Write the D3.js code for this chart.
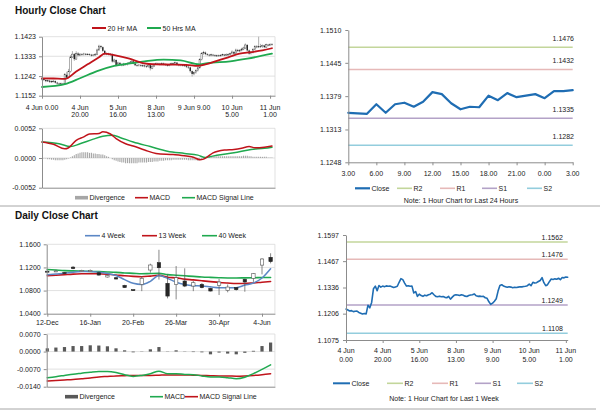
<!DOCTYPE html>
<html><head><meta charset="utf-8">
<script src="https://cdn.jsdelivr.net/npm/d3@7"></script>
<style>
body{margin:0;background:#fff}
svg text{font-family:"Liberation Sans",Arial,sans-serif}
</style></head><body>
<svg id="c" width="600" height="413"></svg>
<script>
// ---------------- DATA ----------------
// Hourly (4 Jun 0.00 -> 11 Jun ~2.00), one value per hour bar
const hourlyClose = [1.1229,1.1224,1.1219,1.1221,1.1216,1.1218,1.1219,1.1212,1.1208,1.1204,
1.1207,1.1205,1.1248,1.1235,1.1262,1.1330,1.1343,1.1320,1.1346,1.1338,
1.1343,1.1340,1.1344,1.1342,1.1343,1.1340,1.1336,1.1339,1.1342,1.1362,
1.1380,1.1375,1.1358,1.1343,1.1345,1.1342,1.1343,1.1309,1.1316,1.1292,
1.1303,1.1296,1.1292,1.1298,1.1295,1.1300,1.1303,1.1310,1.1300,1.1292,
1.1290,1.1293,1.1290,1.1291,1.1287,1.1285,1.1292,1.1278,1.1288,1.1297,
1.1300,1.1299,1.1296,1.1300,1.1297,1.1293,1.1291,1.1296,1.1299,1.1300,
1.1304,1.1295,1.1292,1.1293,1.1291,1.1292,1.1285,1.1282,1.1265,1.1252,
1.1258,1.1268,1.1280,1.1318,1.1346,1.1350,1.1343,1.1340,1.1337,1.1340,
1.1338,1.1335,1.1337,1.1336,1.1338,1.1340,1.1339,1.1341,1.1342,1.1345,
1.1353,1.1345,1.1362,1.1358,1.1360,1.1366,1.1371,1.1385,1.1360,1.1345,
1.1350,1.1365,1.1378,1.1376,1.1379,1.1377,1.1382,1.1375,1.1386,1.1384,
1.1388,1.1387];
const hourlyHigh = [1.1236,1.1233,1.1228,1.1226,1.1225,1.1222,1.1224,1.1222,1.1216,1.1212,
1.1212,1.1211,1.1256,1.1262,1.1275,1.1338,1.1357,1.1348,1.1356,1.1352,
1.1348,1.1347,1.1349,1.1348,1.1347,1.1346,1.1344,1.1343,1.1348,1.1368,
1.1386,1.1384,1.1378,1.1362,1.1350,1.1349,1.1348,1.1346,1.1322,1.1319,
1.1308,1.1306,1.1300,1.1303,1.1302,1.1305,1.1308,1.1315,1.1313,1.1304,
1.1297,1.1298,1.1297,1.1296,1.1295,1.1292,1.1297,1.1295,1.1292,1.1302,
1.1305,1.1304,1.1303,1.1305,1.1304,1.1300,1.1297,1.1300,1.1304,1.1305,
1.1309,1.1307,1.1299,1.1298,1.1297,1.1297,1.1295,1.1289,1.1285,1.1268,
1.1264,1.1273,1.1286,1.1324,1.1352,1.1358,1.1355,1.1347,1.1344,1.1345,
1.1344,1.1342,1.1341,1.1341,1.1343,1.1345,1.1344,1.1346,1.1347,1.1350,
1.1360,1.1357,1.1368,1.1367,1.1366,1.1372,1.1377,1.1392,1.1389,1.1364,
1.1356,1.1370,1.1384,1.1384,1.1423,1.1390,1.1387,1.1386,1.1391,1.1390,
1.1393,1.1393];
const hourlyLow = [1.1222,1.1219,1.1214,1.1215,1.1211,1.1212,1.1213,1.1208,1.1202,1.1199,
1.1200,1.1200,1.1203,1.1230,1.1232,1.1258,1.1325,1.1312,1.1318,1.1333,
1.1334,1.1335,1.1336,1.1337,1.1338,1.1336,1.1332,1.1333,1.1336,1.1340,
1.1358,1.1368,1.1352,1.1338,1.1338,1.1337,1.1336,1.1304,1.1303,1.1287,
1.1288,1.1291,1.1287,1.1288,1.1290,1.1291,1.1296,1.1299,1.1296,1.1288,
1.1285,1.1286,1.1285,1.1285,1.1282,1.1280,1.1281,1.1268,1.1274,1.1285,
1.1293,1.1294,1.1291,1.1292,1.1292,1.1289,1.1286,1.1287,1.1292,1.1294,
1.1296,1.1290,1.1287,1.1287,1.1286,1.1285,1.1279,1.1275,1.1258,1.1240,
1.1246,1.1253,1.1263,1.1276,1.1314,1.1340,1.1338,1.1335,1.1332,1.1333,
1.1333,1.1330,1.1331,1.1331,1.1332,1.1334,1.1334,1.1335,1.1337,1.1338,
1.1341,1.1340,1.1342,1.1352,1.1353,1.1356,1.1361,1.1367,1.1355,1.1340,
1.1341,1.1346,1.1361,1.1370,1.1371,1.1371,1.1372,1.1370,1.1372,1.1379,
1.1380,1.1382];
const ma20Idx = [0,6,12,18,24,30,33,38,46,53,60,68,76,82,86,92,98,104,110,116,121];
const ma20    = [1.1232,1.1231,1.1229,1.1263,1.1296,1.1329,1.1345,1.1338,1.1322,1.1302,1.1296,1.1295,1.1294,1.1289,1.1296,1.1312,1.1328,1.1345,1.1352,1.1360,1.1370];
const ma50Idx = [0,12,20,29,38,46,54,64,73,83,87,99,108,121];
const ma50    = [1.1192,1.1205,1.1232,1.1265,1.1289,1.1300,1.1310,1.1318,1.1314,1.1296,1.1302,1.1310,1.1322,1.1345];
const hMacdIdx = [0,6,12,14,18,22,25,30,32,36,39,44,48,54,60,69,76,80,83,85,87,90,96,101,105,109,112,117,121];
const hMacd    = [0.0028,0.0024,0.0016,0.0018,0.0031,0.0037,0.0042,0.0043,0.0046,0.0042,0.0034,0.0025,0.0021,0.0014,0.0008,0.0006,0.00035,0.0001,-0.0003,-0.0002,0.0002,0.0009,0.0014,0.0015,0.0017,0.0020,0.0018,0.0019,0.0021];
const hSigIdx = [0,9,15,20,27,32,37,41,48,57,66,75,82,86,92,101,110,117,121];
const hSig    = [0.0028,0.0025,0.0020,0.0025,0.0033,0.0038,0.0040,0.0036,0.0028,0.0020,0.0012,0.0008,0.0005,0.0001,0.0005,0.0009,0.0015,0.0017,0.0019];
const hDiv = [0,-0.0001,-0.0001,-0.0002,-0.0002,-0.0003,-0.0003,-0.0004,-0.0004,-0.0004,
-0.0004,-0.0004,-0.0003,-0.0002,-0.0001,0.0001,0.0003,0.0005,0.0007,0.0008,
0.0009,0.0010,0.0010,0.0010,0.0010,0.0009,0.0009,0.0008,0.0008,0.0007,
0.0007,0.0006,0.0006,0.0005,0.0003,0.0002,0.0000,-0.0002,-0.0004,-0.0005,
-0.0006,-0.0007,-0.0008,-0.0008,-0.0009,-0.0009,-0.0009,-0.0009,-0.0009,-0.0009,
-0.0009,-0.0008,-0.0008,-0.0008,-0.0008,-0.0008,-0.0007,-0.0007,-0.0007,-0.0006,
-0.0006,-0.0006,-0.0005,-0.0005,-0.0005,-0.0004,-0.0004,-0.0004,-0.0004,-0.0003,
-0.0003,-0.0003,-0.0003,-0.0003,-0.0003,-0.0003,-0.0003,-0.0004,-0.0004,-0.0004,
-0.0004,-0.0004,-0.0005,-0.0004,-0.0003,-0.0001,0.0001,0.0002,0.0003,0.0003,
0.0003,0.0003,0.0003,0.0003,0.0003,0.0003,0.0003,0.0003,0.0003,0.0003,
0.0003,0.0003,0.0003,0.0003,0.0003,0.0003,0.0004,0.0004,0.0004,0.0003,
0.0003,0.0002,0.0002,0.0002,0.0002,0.0002,0.0002,0.0002,0.0002,0.0001,
0.0001,0.0001];
const hourTicks = [0,20,40,60,80,100,120];
const hourLabelsA = [["4 Jun 0.00"],["4 Jun","20.00"],["5 Jun","16.00"],["8 Jun","13.00"],["9 Jun 9.00"],["10 Jun","5.00"],["11 Jun","1.00"]];
const hourLabelsW = [["4 Jun","0.00"],["4 Jun","20.00"],["5 Jun","16.00"],["8 Jun","13.00"],["9 Jun","9.00"],["10 Jun","5.00"],["11 Jun","1.00"]];
const priceTicksA = [1.1152,1.1242,1.1333,1.1423];
const macdTicksA = [-0.0052,0,0.0052];

// Last 24 hours
const close24 = [1.1346,1.1345,1.1344,1.1363,1.1346,1.1363,1.1366,1.1358,1.1368,1.1387,1.1383,1.1365,1.1353,1.1358,1.1357,1.1380,1.1371,1.1385,1.1377,1.1380,1.1383,1.1375,1.1389,1.1389,1.1391];
const ticks24 = [0,3,6,9,12,15,18,21,24];
const labels24 = ["3.00","6.00","9.00","12.00","15.00","18.00","21.00","0.00","3.00"];
const priceTicks24 = [1.1248,1.1313,1.1379,1.1445,1.1510];
const levelNames = ["R2","R1","S1","S2"];
const levels24 = [1.1476,1.1432,1.1335,1.1282];
const levelsWeek = [1.1562,1.1476,1.1249,1.1108];
const priceTicksW = [1.1075,1.1206,1.1336,1.1467,1.1597];

// Weekly candles (12-Dec .. 11-Jun)
const wOpen  = [1.1135,1.1132,1.1112,1.1205,1.1138,1.1140,1.1108,1.1034,1.1022,1.0890,1.0815,1.0907,1.1155,1.1282,1.0925,1.0907,1.0965,1.0878,1.0907,1.0838,1.0890,1.0803,1.0850,1.0994,1.1011,1.1240,1.1375];
const wClose = [1.1125,1.1140,1.1104,1.1180,1.1146,1.1148,1.1068,1.1063,1.1000,1.0852,1.0805,1.1011,1.1242,1.1195,1.0705,1.1022,1.0878,1.0936,1.0850,1.0792,1.0948,1.0861,1.0815,1.0948,1.1092,1.1346,1.1300];
const wHigh  = [1.1145,1.1160,1.1120,1.1225,1.1160,1.1165,1.1125,1.1075,1.1035,1.0900,1.0820,1.1050,1.1265,1.1505,1.1081,1.1224,1.1185,1.0965,1.0930,1.0850,1.1000,1.0905,1.0860,1.1005,1.1100,1.1360,1.1445];
const wLow   = [1.1118,1.1120,1.1095,1.1170,1.1130,1.1135,1.1060,1.1025,1.0990,1.0845,1.0795,1.0790,1.1110,1.0990,1.0665,1.0647,1.0860,1.0790,1.0840,1.0785,1.0723,1.0770,1.0800,1.0780,1.0950,1.1080,1.1270];
const ma4  = [1.1075,1.1088,1.1100,1.1118,1.1128,1.1130,1.1118,1.1095,1.1060,1.0990,1.0925,1.0905,1.0960,1.1060,1.1010,1.0945,1.0905,1.0885,1.0880,1.0865,1.0850,1.0848,1.0850,1.0895,1.0930,1.1018,1.1178];
const ma13 = [1.1055,1.1065,1.1075,1.1085,1.1090,1.1092,1.1090,1.1082,1.1070,1.1055,1.1045,1.1040,1.1050,1.1062,1.1030,1.1020,1.0998,1.0985,1.0970,1.0955,1.0940,1.0930,1.0922,1.0922,1.0932,1.0945,1.0957];
const ma40 = [1.1165,1.1155,1.1145,1.1140,1.1136,1.1132,1.1128,1.1122,1.1115,1.1105,1.1098,1.1090,1.1095,1.1098,1.1075,1.1065,1.1055,1.1045,1.1035,1.1028,1.1022,1.1018,1.1018,1.1020,1.1022,1.1025,1.1027];
const dDiv  = [0.0013,0.0016,0.0018,0.0022,0.0022,0.0025,0.0024,0.0021,0.0013,0.0005,-0.0003,-0.0001,0.0009,0.0018,0.0001,0.0005,0.0001,-0.0002,-0.0003,-0.0011,-0.0004,-0.0008,-0.0011,-0.0005,0.0003,0.0022,0.0036];
const dMacd = [-0.0104,-0.0100,-0.0095,-0.0090,-0.0086,-0.0082,-0.0079,-0.0079,-0.0083,-0.0092,-0.0099,-0.0095,-0.0088,-0.0078,-0.0088,-0.0088,-0.0091,-0.0092,-0.0097,-0.0101,-0.0101,-0.0104,-0.0108,-0.0102,-0.0088,-0.0071,-0.0053];
const dSig  = [-0.0117,-0.0115,-0.0113,-0.0111,-0.0108,-0.0105,-0.0101,-0.0099,-0.0097,-0.0096,-0.0095,-0.0095,-0.0095,-0.0094,-0.0093,-0.0093,-0.0093,-0.0094,-0.0095,-0.0096,-0.0097,-0.0097,-0.0098,-0.0097,-0.0095,-0.0092,-0.0088];
const dateTicks = [0,5,10,15,20,25];
const dateLabels = ["12-Dec","16-Jan","20-Feb","26-Mar","30-Apr","4-Jun"];
const priceTicksD = [1.04,1.08,1.12,1.16];
const macdTicksD = [-0.014,-0.007,0,0.007];

// ---------------- STYLE ----------------
const RED = "#c0141b", GREEN = "#1fa94f", BLUE4 = "#5b87c5", CLOSE = "#1f6db3";
const LVL = ["#c3d69b","#e6b9b8","#b3a2c7","#93cddd"];
const AX = "#8c8c8c", GRID = "#d9d9d9", TXT = "#1a1a1a", FS = 7;

const svg = d3.select("#c");
svg.append("rect").attr("width",600).attr("height",413).attr("fill","#fff");

function txt(x, y, s, o = {}) {
  return svg.append("text").attr("x", x).attr("y", y)
    .attr("font-size", o.size || FS).attr("fill", o.fill || TXT)
    .attr("text-anchor", o.anchor || "start").attr("font-weight", o.weight || "normal")
    .attr("dominant-baseline", "central").text(s);
}
function styleAxis(g) {
  g.select(".domain").attr("stroke", AX);
  g.selectAll(".tick line").attr("stroke", AX);
  g.selectAll(".tick text").attr("font-size", FS).attr("fill", TXT)
    .attr("font-family", '"Liberation Sans",Arial,sans-serif');
}
function leftAxis(x, scale, ticks, pad) {
  const g = svg.append("g").attr("transform", `translate(${x},0)`)
    .call(d3.axisLeft(scale).tickValues(ticks).tickSize(3).tickSizeOuter(0)
      .tickPadding(pad).tickFormat(d => d.toFixed(4)));
  styleAxis(g);
}
function bottomAxis(y, scale, ticks) {
  const g = svg.append("g").attr("transform", `translate(0,${y})`)
    .call(d3.axisBottom(scale).tickValues(ticks).tickSize(3).tickSizeOuter(0).tickFormat(""));
  styleAxis(g);
}
function grid(scale, vals, x1, x2) {
  svg.append("g").selectAll("line").data(vals).join("line")
    .attr("x1", x1).attr("x2", x2).attr("y1", d => scale(d)).attr("y2", d => scale(d))
    .attr("stroke", GRID).attr("stroke-width", 0.8);
}
function rightBorder(x, y1, y2) {
  svg.append("line").attr("x1", x).attr("x2", x).attr("y1", y1).attr("y2", y2)
    .attr("stroke", GRID).attr("stroke-width", 0.8);
}
function path(idx, vals, xs, ys, color, w, curve) {
  const pts = vals.map((v, i) => [idx ? idx[i] : i, v]);
  svg.append("path").datum(pts)
    .attr("d", d3.line().x(d => xs(d[0])).y(d => ys(d[1])).curve(curve || d3.curveLinear))
    .attr("fill", "none").attr("stroke", color).attr("stroke-width", w)
    .attr("stroke-linejoin", "round").attr("stroke-linecap", "round");
}
function legLine(x1, x2, y, color, w, label) {
  svg.append("line").attr("x1", x1).attr("x2", x2).attr("y1", y).attr("y2", y)
    .attr("stroke", color).attr("stroke-width", w);
  txt(x2 + 1.5, y, label);
}
function legBar(x1, x2, y, color, label) {
  svg.append("rect").attr("x", x1).attr("y", y - 1.8).attr("width", x2 - x1).attr("height", 3.6).attr("fill", color);
  txt(x2 + 1.5, y, label);
}

// ---------------- TITLES / FRAMES ----------------
txt(15, 10, "Hourly Close Chart", { size: 10, weight: "bold", fill: "#111" });
txt(15, 215, "Daily Close Chart", { size: 10, weight: "bold", fill: "#111" });
svg.append("line").attr("x1", 0).attr("x2", 600).attr("y1", 206).attr("y2", 206).attr("stroke", "#a6a6a6").attr("stroke-width", 1);
svg.append("line").attr("x1", 0).attr("x2", 596).attr("y1", 409).attr("y2", 409).attr("stroke", "#a6a6a6").attr("stroke-width", 1);

// ---------------- PANEL A: hourly price ----------------
const xA = d3.scaleLinear().domain([0, 122.6]).range([42, 275]);
const yA = d3.scaleLinear().domain([1.1152, 1.1423]).range([95.7, 36.7]);
grid(yA, priceTicksA.slice(1), 42, 275);
rightBorder(275, yA(1.1423), yA(1.1152));
const gA = svg.append("g");
gA.selectAll("line").data(hourlyClose).join("line")
  .attr("x1", (d, i) => xA(i)).attr("x2", (d, i) => xA(i))
  .attr("y1", (d, i) => yA(hourlyHigh[i])).attr("y2", (d, i) => yA(hourlyLow[i]))
  .attr("stroke", "#9a9a9a").attr("stroke-width", 0.8);
gA.selectAll("rect").data(hourlyClose).join("rect")
  .attr("x", (d, i) => xA(i) - 0.7).attr("width", 1.4)
  .attr("y", (d, i) => yA(Math.max(d, i ? hourlyClose[i - 1] : d)))
  .attr("height", (d, i) => Math.max(0.7, Math.abs(yA(d) - yA(i ? hourlyClose[i - 1] : d))))
  .attr("fill", (d, i) => d >= (i ? hourlyClose[i - 1] : d) ? "#fff" : "#222")
  .attr("stroke", (d, i) => d >= (i ? hourlyClose[i - 1] : d) ? "#333" : "none")
  .attr("stroke-width", 0.4);
path(ma50Idx, ma50, xA, yA, GREEN, 1.8, d3.curveMonotoneX);
path(ma20Idx, ma20, xA, yA, RED, 1.8, d3.curveMonotoneX);
leftAxis(42, yA, priceTicksA, 3);
bottomAxis(95.7, xA, hourTicks);
hourTicks.forEach((t, k) => {
  hourLabelsA[k].forEach((s, j) => txt(xA(t), 107 + j * 7, s, { anchor: "middle" }));
});
legLine(92, 106, 28, RED, 2, "20 Hr MA");
legLine(147, 161, 28, GREEN, 2, "50 Hrs MA");

// ---------------- PANEL B: hourly MACD ----------------
const yB = d3.scaleLinear().domain([-0.0052, 0.0052]).range([187.7, 128.3]);
grid(yB, [0, 0.0052], 42, 275);
rightBorder(275, yB(0.0052), yB(-0.0052));
svg.append("g").selectAll("line").data(hDiv).join("line")
  .attr("x1", (d, i) => xA(i)).attr("x2", (d, i) => xA(i))
  .attr("y1", yB(0)).attr("y2", d => yB(d))
  .attr("stroke", "#a6a6a6").attr("stroke-width", 1.1);
path(hSigIdx, hSig, xA, yB, GREEN, 1.5, d3.curveMonotoneX);
path(hMacdIdx, hMacd, xA, yB, RED, 1.5, d3.curveMonotoneX);
leftAxis(42, yB, macdTicksA, 3);
bottomAxis(187.7, xA, []);
legBar(75, 88, 197.7, "#a6a6a6", "Divergence");
legLine(135, 148, 197.7, RED, 1.6, "MACD");
legLine(182, 195, 197.7, GREEN, 1.6, "MACD Signal Line");

// ---------------- PANEL C: last 24 hours ----------------
const xC = d3.scaleLinear().domain([0, 24]).range([348.3, 572.7]);
const yC = d3.scaleLinear().domain([1.1248, 1.1510]).range([162.3, 30]);
levels24.forEach((v, k) => {
  svg.append("line").attr("x1", xC(0)).attr("x2", xC(24)).attr("y1", yC(v)).attr("y2", yC(v))
    .attr("stroke", LVL[k]).attr("stroke-width", 1.5);
  txt(574, yC(v) - 9, v.toFixed(4), { anchor: "end" });
});
path(null, close24, xC, yC, CLOSE, 2.2);
leftAxis(348.3, yC, priceTicks24, 4);
bottomAxis(162.3, xC, ticks24);
ticks24.forEach((t, k) => txt(xC(t), 173.3, labels24[k], { anchor: "middle" }));
legLine(355, 370, 188.3, CLOSE, 2.2, "Close");
[397, 440, 482, 527].forEach((x, k) => legLine(x, x + 15, 188.3, LVL[k], 1.6, levelNames[k]));
txt(461, 200, "Note: 1 Hour Chart for Last 24 Hours", { anchor: "middle" });

// ---------------- PANEL D: daily candles ----------------
const xD = d3.scaleLinear().domain([0, 26]).range([47.3, 270.6]);
const xDax = d3.scaleLinear().domain([-0.07, 26.5]).range([xD(-0.07), xD(26.5)]);
const yD = d3.scaleLinear().domain([1.04, 1.16]).range([313.7, 244.3]);
grid(yD, priceTicksD.slice(1), xDax(-0.07), xDax(26.5));
rightBorder(xDax(26.5), yD(1.16), yD(1.04));
path(null, ma40, xD, yD, GREEN, 1.6, d3.curveMonotoneX);
path(null, ma13, xD, yD, RED, 1.6, d3.curveMonotoneX);
path(null, ma4, xD, yD, BLUE4, 1.5, d3.curveMonotoneX);
const gD = svg.append("g");
gD.selectAll("line").data(wClose).join("line")
  .attr("x1", (d, i) => xD(i)).attr("x2", (d, i) => xD(i))
  .attr("y1", (d, i) => yD(wHigh[i])).attr("y2", (d, i) => yD(wLow[i]))
  .attr("stroke", "#555").attr("stroke-width", 0.7);
gD.selectAll("rect").data(wClose).join("rect")
  .attr("x", (d, i) => xD(i) - 1.7).attr("width", 3.4)
  .attr("y", (d, i) => yD(Math.max(d, wOpen[i])))
  .attr("height", (d, i) => Math.max(1, Math.abs(yD(d) - yD(wOpen[i]))))
  .attr("fill", (d, i) => d >= wOpen[i] ? "#fff" : "#262626")
  .attr("stroke", (d, i) => d >= wOpen[i] ? "#555" : "#262626").attr("stroke-width", 0.6);
leftAxis(xDax(-0.07), yD, priceTicksD, 3);
bottomAxis(313.7, xDax, dateTicks);
dateTicks.forEach((t, k) => txt(xD(t), 322, dateLabels[k], { anchor: "middle" }));
legLine(85, 100, 235.7, BLUE4, 1.6, "4 Week");
legLine(142, 157, 235.7, RED, 1.6, "13 Week");
legLine(202, 217, 235.7, GREEN, 1.6, "40 Week");

// ---------------- PANEL E: daily MACD ----------------
const yE = d3.scaleLinear().domain([-0.014, 0.007]).range([386.7, 334]);
grid(yE, [-0.007, 0, 0.007], xDax(-0.07), xDax(26.5));
rightBorder(xDax(26.5), yE(0.007), yE(-0.014));
svg.append("g").selectAll("rect").data(dDiv).join("rect")
  .attr("x", (d, i) => xD(i) - 1.6).attr("width", 3.2)
  .attr("y", d => Math.min(yE(0), yE(d))).attr("height", d => Math.abs(yE(d) - yE(0)))
  .attr("fill", "#595959");
path(null, dSig, xD, yE, RED, 1.5, d3.curveMonotoneX);
path(null, dMacd, xD, yE, GREEN, 1.5, d3.curveMonotoneX);
leftAxis(xDax(-0.07), yE, macdTicksD, 3);
bottomAxis(386.7, xDax, []);
legBar(65, 78, 396.7, "#595959", "Divergence");
legLine(150, 163, 396.7, GREEN, 1.6, "MACD");
legLine(185, 198, 396.7, RED, 1.6, "MACD Signal Line");

// ---------------- PANEL F: last 1 week hourly ----------------
const xF = d3.scaleLinear().domain([0, 121]).range([346, 567.7]);
const yF = d3.scaleLinear().domain([1.1075, 1.1597]).range([340, 235]);
levelsWeek.forEach((v, k) => {
  svg.append("line").attr("x1", xF(0)).attr("x2", xF(121)).attr("y1", yF(v)).attr("y2", yF(v))
    .attr("stroke", LVL[k]).attr("stroke-width", 1.5);
  txt(563, yF(v) - 5, v.toFixed(4), { anchor: "end" });
});
path(null, hourlyClose, xF, yF, CLOSE, 1.6);
leftAxis(346, yF, priceTicksW, 4);
bottomAxis(340, xF, hourTicks);
hourTicks.forEach((t, k) => {
  hourLabelsW[k].forEach((s, j) => txt(xF(t), 350.7 + j * 8.3, s, { anchor: "middle" }));
});
legLine(333, 350, 383.3, CLOSE, 2, "Close");
[387, 432, 475, 517].forEach((x, k) => legLine(x, x + 16, 383.3, LVL[k], 1.6, levelNames[k]));
txt(444, 398.3, "Note: 1 Hour Chart for Last 1 Week", { anchor: "middle" });
</script>
</body></html>
